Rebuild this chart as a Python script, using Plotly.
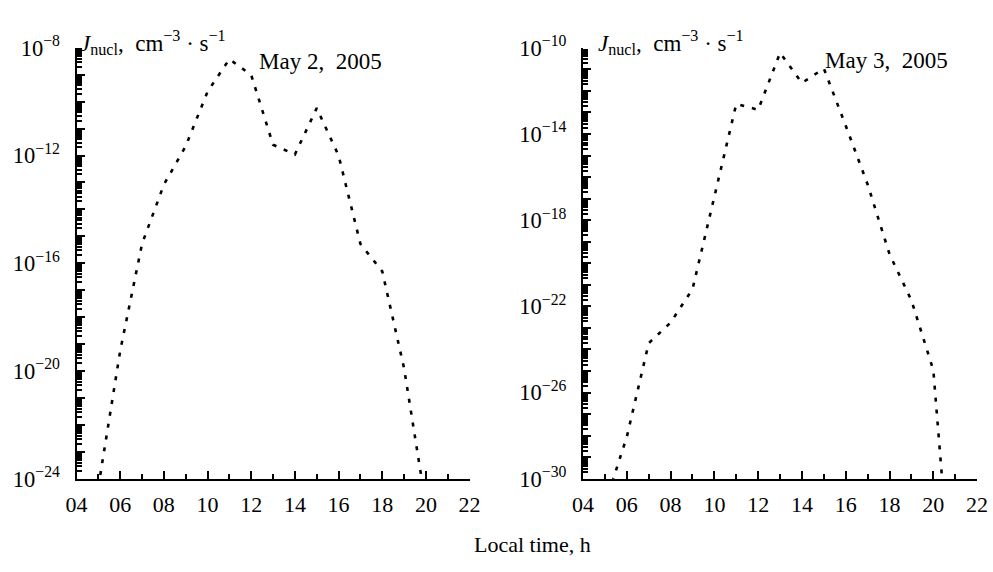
import plotly.graph_objects as go

# ---- data ----
hours_may2 = [5, 6, 7, 8, 9, 10, 11, 12, 13, 14, 15, 16, 17, 18, 19, 20]
log_j_may2 = [-24.3, -19.25, -15.28, -13.08, -11.65, -9.63, -8.42, -9.01, -11.6, -11.96,
              -10.24, -12.0, -15.28, -16.3, -19.9, -25.0]

hours_may3 = [5, 6, 7, 8, 9, 10, 11, 12, 13, 14, 15, 16, 17, 18, 19, 20, 21]
log_j_may3 = [-31.2, -28.05, -23.71, -22.75, -21.2, -16.94, -12.6, -12.88, -10.23, -11.63,
              -10.96, -13.62, -16.34, -19.58, -21.72, -24.96, -37.5]

x_range = [4, 22]                 # local time, h; labelled every 2 h as 04, 06, ... 22
left_log_range = [-24, -8]
left_labeled = [-24, -20, -16, -12, -8]
right_log_range = [-30, -10]
right_labeled = [-30, -26, -22, -18, -14, -10]

titles = ["May 2,\u20022005", "May 3,\u20022005"]
y_label = "<i>J</i><sub>nucl</sub>,\u2002cm<sup>−3</sup> · s<sup>−1</sup>"
x_label = "Local time, h"

FONT = "Liberation Serif"
W, H = 993, 572


def hide_unlabeled(rng, labeled):
    # plotly formats decade labels as 10<sup>−p</sup>; blank those not shown in the original
    alias = {}
    for p in range(rng[0], rng[1] + 1):
        if p not in labeled:
            alias["10<sup>\u2212%d</sup>" % (-p)] = ""
            alias["10<sup>-%d</sup>" % (-p)] = ""
    return alias


fig = go.Figure()
fig.add_trace(go.Scatter(x=hours_may2, y=[10.0 ** v for v in log_j_may2], mode="lines",
                         line=dict(color="black", width=2.6, dash="4px,8px"),
                         xaxis="x", yaxis="y", showlegend=False, hoverinfo="skip"))
fig.add_trace(go.Scatter(x=hours_may3, y=[10.0 ** v for v in log_j_may3], mode="lines",
                         line=dict(color="black", width=2.6, dash="4px,8px"),
                         xaxis="x2", yaxis="y2", showlegend=False, hoverinfo="skip"))

ydom = [(572 - 487.5) / 572, (572 - 33.5) / 572]
xdom1 = [67 / W, 469 / W]
xdom2 = [585 / W, 988 / W]


def xaxis_main(dom, anchor):
    return dict(domain=dom, anchor=anchor, range=x_range, tickmode="linear",
                tick0=x_range[0], dtick=2, tickformat="02d",
                ticks="inside", ticklen=8, tickwidth=1.8, tickcolor="black",
                showline=True, linecolor="black", linewidth=2, showgrid=False, zeroline=False,
                tickfont=dict(family=FONT, size=22, color="black"), ticklabelstandoff=5,
                minor=dict(dtick=1, ticks="inside", ticklen=5, tickwidth=1.5,
                           tickcolor="black", showgrid=False))


def yaxis_main(rng, labeled, anchor):
    return dict(type="log", range=rng, domain=ydom, anchor=anchor, tickmode="linear",
                tick0=0, dtick=1, exponentformat="power", showexponent="all",
                labelalias=hide_unlabeled(rng, labeled),
                ticks="inside", ticklen=8, tickwidth=1.8, tickcolor="black",
                showline=True, linecolor="black", linewidth=2,
                showgrid=False, zeroline=False, ticklabelstandoff=11,
                tickfont=dict(family=FONT, size=18, color="black"),
                minor=dict(dtick="D1", ticks="inside", ticklen=5, tickwidth=1.5,
                           tickcolor="black", showgrid=False))


fig.update_layout(
    width=W, height=H, margin=dict(l=0, r=0, t=0, b=0),
    paper_bgcolor="white", plot_bgcolor="white",
    font=dict(family=FONT, color="black", size=22),
    xaxis=xaxis_main(xdom1, "y"),
    xaxis2=xaxis_main(xdom2, "y2"),
    yaxis=yaxis_main(left_log_range, left_labeled, "x"),
    yaxis2=yaxis_main(right_log_range, right_labeled, "x2"),
)

ann = [
    dict(x=69 / W, y=1 - 28 / H, text=y_label, xanchor="left", yanchor="middle", size=23),
    dict(x=598 / W, y=1 - 28 / H, text=y_label, xanchor="left", yanchor="middle", size=23),
    dict(x=252 / W, y=1 - 48 / H, text=titles[0], xanchor="left", yanchor="middle", size=23),
    dict(x=830 / W, y=1 - 47 / H, text=titles[1], xanchor="left", yanchor="middle", size=23),
    dict(x=533 / W, y=1 - 557 / H, text=x_label, xanchor="center", yanchor="middle", size=22),
]
for a in ann:
    sz = a.pop("size")
    a.update(xref="paper", yref="paper", showarrow=False,
             font=dict(family=FONT, size=sz, color="black"))
fig.update_layout(annotations=ann)

fig.write_html("out.html")
